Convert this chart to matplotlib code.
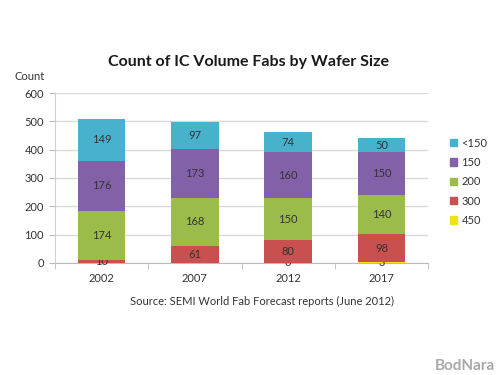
import matplotlib
matplotlib.use("Agg")
import matplotlib.pyplot as plt
from matplotlib.patches import Patch
import numpy as np

plt.rcParams['font.family'] = ['Lato', 'DejaVu Sans']

years = ['2002', '2007', '2012', '2017']
s450 = [0, 0, 0, 3]
s300 = [10, 61, 80, 98]
s200 = [174, 168, 150, 140]
s150 = [176, 173, 160, 150]
s_lt150 = [149, 97, 74, 50]
labels450 = ['', '', '0', '3']

series = [
    ('450', s450, '#EDE21B'),
    ('300', s300, '#C9504F'),
    ('200', s200, '#9BBB4A'),
    ('150', s150, '#8361A8'),
    ('<150', s_lt150, '#48B2CC'),
]

fig = plt.figure(figsize=(5, 3.75), dpi=100)
ax = fig.add_axes([0.11, 0.2987, 0.746, 0.4533])
x = np.arange(len(years))
bottom = np.zeros(len(years))
handles = []
for name, vals, col in series:
    bars = ax.bar(x, vals, 0.51, bottom=bottom, color=col, zorder=3)
    if name == '450':
        ax.bar_label(bars, labels=labels450, label_type='center', fontsize=8, color='#333333')
    else:
        ax.bar_label(bars, labels=[str(v) for v in vals], label_type='center', fontsize=8, color='#333333')
    bottom += np.array(vals)
    handles.append(Patch(color=col, label=name))

ax.set_xlim(-0.5, 3.5)
ax.set_ylim(0, 600)
ax.set_yticks(range(0, 601, 100))
ax.set_xticks(x)
ax.set_xticklabels(years)
ax.set_xticks(np.arange(-0.5, 3.6, 1), minor=True)
ax.tick_params(axis='x', which='major', length=0, labelsize=8, pad=7, colors='#333333')
ax.tick_params(axis='x', which='minor', length=4, color='#BBBBBB')
ax.tick_params(axis='y', length=4, color='#BBBBBB', labelsize=8, colors='#333333', pad=4)
ax.grid(axis='y', color='#D9D9D9', linewidth=1, zorder=0)
for s in ['top', 'right']:
    ax.spines[s].set_visible(False)
ax.spines['left'].set_color('#D0D0D0')
ax.spines['bottom'].set_color('#BBBBBB')

fig.text(0.496, 0.835, 'Count of IC Volume Fabs by Wafer Size', ha='center', va='center',
         fontsize=11.5, fontweight='bold', color='#1A1A1A')
fig.text(0.09, 0.795, 'Count', ha='right', va='center', fontsize=8, color='#333333')
fig.text(0.525, 0.196, 'Source: SEMI World Fab Forecast reports (June 2012)', ha='center', va='center',
         fontsize=8, color='#333333')
fig.text(0.99, 0.025, 'BodNara', ha='right', va='center', fontsize=11, fontweight='bold', color='#A8A8A8')

leg = fig.legend(handles=handles[::-1], loc='upper left', bbox_to_anchor=(0.892, 0.645),
                 frameon=False, fontsize=8, handlelength=0.6, handleheight=0.6,
                 handletextpad=0.4, labelspacing=0.75, borderaxespad=0)
for t in leg.get_texts():
    t.set_color('#333333')

fig.savefig('out.png', dpi=100)
